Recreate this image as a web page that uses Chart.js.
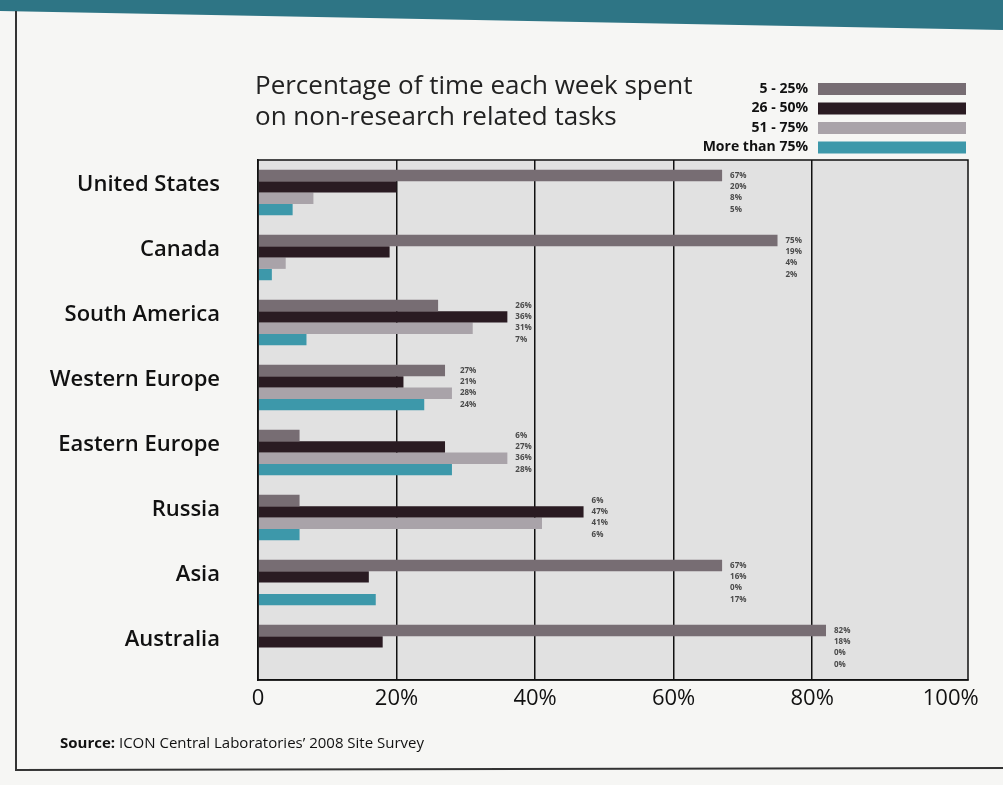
<!DOCTYPE html>
<html>
<head>
<meta charset="utf-8">
<script src="https://cdn.jsdelivr.net/npm/chart.js@4"></script>
<style>
  html, body { margin: 0; padding: 0; background: #f6f6f4; }
  #wrap { width: 1003px; height: 785px; position: relative; }
</style>
</head>
<body>
<div id="wrap"><canvas id="graph1" width="1003" height="785"></canvas></div>
<script>
const regions = ['United States', 'Canada', 'South America', 'Western Europe', 'Eastern Europe', 'Russia', 'Asia', 'Australia'];
const seriesNames = ['5 - 25%', '26 - 50%', '51 - 75%', 'More than 75%'];
const seriesColors = ['#776d73', '#2a1b22', '#a9a3a9', '#3d98aa'];
const low = [67, 75, 26, 27, 6, 6, 67, 82];
const midLow = [20, 19, 36, 21, 27, 47, 16, 18];
const midHigh = [8, 4, 31, 28, 36, 41, 0, 0];
const high = [5, 2, 7, 24, 28, 6, 17, 0];
const xTicks = [0, 20, 40, 60, 80, 100];
const titleLines = ['Percentage of time each week spent', 'on non-research related tasks'];
const sourceBold = 'Source:';
const sourceText = ' ICON Central Laboratories\u2019 2008 Site Survey';

const allSeries = [low, midLow, midHigh, high];
const font = "'Open Sans', 'Noto Sans', sans-serif";

// paper, frame, title, legend, source
const decor = {
  id: 'decor',
  beforeDraw(chart) {
    const c = chart.ctx;
    c.save();
    c.fillStyle = '#2e7585';
    c.beginPath();
    c.moveTo(0, 0); c.lineTo(1003, 0); c.lineTo(1003, 30); c.lineTo(0, 11);
    c.closePath(); c.fill();
    c.strokeStyle = '#333';
    c.lineWidth = 2;
    c.beginPath();
    c.moveTo(16, 11); c.lineTo(16, 770); c.lineTo(1003, 768);
    c.stroke();
    const a = chart.chartArea;
    c.fillStyle = '#e1e1e1';
    c.fillRect(a.left, a.top, a.right - a.left, a.bottom - a.top);
    c.restore();
  },
  afterDraw(chart) {
    const c = chart.ctx;
    const a = chart.chartArea;
    c.save();
    c.strokeStyle = '#111';
    c.lineWidth = 1.5;
    c.strokeRect(a.left, a.top, a.right - a.left, a.bottom - a.top);

    c.fillStyle = '#222';
    c.font = '500 26px ' + font;
    c.textBaseline = 'alphabetic';
    c.fillText(titleLines[0], 255, 94);
    c.fillText(titleLines[1], 255, 125);

    c.font = 'bold 14px ' + font;
    c.textAlign = 'right';
    c.textBaseline = 'middle';
    chart.data.datasets.forEach((ds, i) => {
      const y = 89 + i * 19.5;
      c.fillStyle = '#111';
      c.fillText(ds.label, 808, y);
      c.fillStyle = ds.backgroundColor;
      c.fillRect(818, y - 6, 148, 12);
    });

    c.textAlign = 'left';
    c.textBaseline = 'alphabetic';
    c.fillStyle = '#111';
    c.font = 'bold 15px ' + font;
    c.fillText(sourceBold, 60, 748);
    const w = c.measureText(sourceBold).width;
    c.font = '15px ' + font;
    c.fillText(sourceText, 60 + w, 748);

    // value labels beside the bars
    const xs = chart.scales.x;
    c.font = 'bold 8px ' + font;
    c.fillStyle = '#4a4a4a';
    c.textBaseline = 'middle';
    regions.forEach((r, j) => {
      const mx = Math.max(...allSeries.map(s => s[j]));
      const x = xs.getPixelForValue(mx) + 8;
      allSeries.forEach((s, i) => {
        const bar = chart.getDatasetMeta(i).data[j];
        c.fillText(s[j] + '%', x, bar.y);
      });
    });
    c.restore();
  }
};

const chartData1 = {
  labels: regions,
  datasets: allSeries.map((s, i) => ({
    label: seriesNames[i],
    data: s,
    backgroundColor: seriesColors[i],
    barPercentage: 1.0,
    categoryPercentage: 0.7,
  })),
};

const chartConfig = {
  type: 'bar',
  data: chartData1,
  options: {
    indexAxis: 'y',
    responsive: false,
    animation: false,
    layout: { padding: { top: 160, right: 35, left: 0, bottom: 0 } },
    plugins: {
      legend: { display: false },
      tooltip: { enabled: false },
    },
    scales: {
      x: {
        min: 0,
        max: 102.5,
        afterBuildTicks: scale => { scale.ticks = xTicks.map(v => ({ value: v })); },
        afterFit: scale => { scale.height = 105; },
        grid: {
          color: ctx => (ctx.tick && ctx.tick.value > 0 && ctx.tick.value < 100) ? '#111' : 'rgba(0,0,0,0)',
          lineWidth: 1.5,
          drawTicks: false,
        },
        border: { display: true, color: '#111', width: 1.5 },
        ticks: {
          padding: 6,
          color: '#111',
          font: { size: 22, family: font },
          callback: v => v === 0 ? '0' : v + '%',
        },
      },
      y: {
        afterFit: scale => { scale.width = 258; },
        grid: { display: false },
        border: { display: true, color: '#111', width: 1.5 },
        ticks: {
          padding: 30,
          labelOffset: -8,
          color: '#111',
          font: { size: 22, family: font, weight: '600' },
        },
      },
    },
  },
  plugins: [decor],
};

const graph1 = new Chart(document.getElementById('graph1'), chartConfig);
</script>
</body>
</html>
